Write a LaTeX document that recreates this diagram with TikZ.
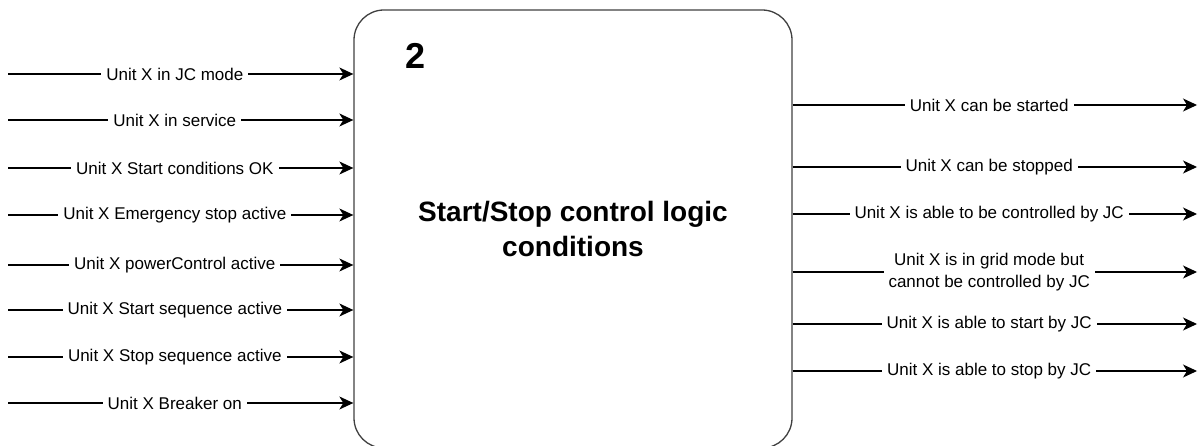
\documentclass[tikz,border=0pt]{standalone}
\usepackage{fontspec}
\setmainfont{Liberation Sans}
\usetikzlibrary{arrows.meta}
\begin{document}
\begin{tikzpicture}[x=1pt,y=-1pt,
  flow/.style={line width=1.2pt, -{Stealth[length=14pt,width=13pt,inset=4pt]}},
  sig/.style={fill=white, inner xsep=5pt, inner ysep=1pt, align=center,
    font=\fontsize{17}{22}\selectfont},
  logicbox/.style={draw=black!75, line width=1.3pt, rounded corners=30pt,
    minimum width=438pt, minimum height=438pt},
]
\useasboundingbox (0,0) rectangle (1201,446);
\clip (0,0) rectangle (1201,446);

% central logic block
\node[logicbox] (logic) at (573,229) {};
\node[font=\bfseries\fontsize{36}{40}\selectfont] (num) at (416,56) {2};
\node[font=\bfseries\fontsize{28}{35}\selectfont, align=center] (title) at (logic.center)
  {Start/Stop control logic\\conditions};

% input signals
\coordinate (in1) at (8,74);
\coordinate (in2) at (8,120);
\coordinate (in3) at (8,168);
\coordinate (in4) at (8,215);
\coordinate (in5) at (8,265);
\coordinate (in6) at (8,310);
\coordinate (in7) at (8,357);
\coordinate (in8) at (8,403);
\draw[flow] (in1) -- node[sig,pos=0.483] (l1) {Unit X in JC mode} (in1 -| logic.west);
\draw[flow] (in2) -- node[sig,pos=0.483] (l2) {Unit X in service} (in2 -| logic.west);
\draw[flow] (in3) -- node[sig,pos=0.483] (l3) {Unit X Start conditions OK} (in3 -| logic.west);
\draw[flow] (in4) -- node[sig,pos=0.483] (l4) {Unit X Emergency stop active} (in4 -| logic.west);
\draw[flow] (in5) -- node[sig,pos=0.483] (l5) {Unit X powerControl active} (in5 -| logic.west);
\draw[flow] (in6) -- node[sig,pos=0.483] (l6) {Unit X Start sequence active} (in6 -| logic.west);
\draw[flow] (in7) -- node[sig,pos=0.483] (l7) {Unit X Stop sequence active} (in7 -| logic.west);
\draw[flow] (in8) -- node[sig,pos=0.483] (l8) {Unit X Breaker on} (in8 -| logic.west);

% output signals
\coordinate (out1) at (1197,105);
\coordinate (out2) at (1197,167);
\coordinate (out3) at (1197,214);
\coordinate (out4) at (1197,272);
\coordinate (out5) at (1197,324);
\coordinate (out6) at (1197,371);
\draw[flow] (logic.east |- out1) -- node[sig,pos=0.486] (r1) {Unit X can be started} (out1);
\draw[flow] (logic.east |- out2) -- node[sig,pos=0.486] (r2) {Unit X can be stopped} (out2);
\draw[flow] (logic.east |- out3) -- node[sig,pos=0.486] (r3) {Unit X is able to be controlled by JC} (out3);
\draw[flow] (logic.east |- out4) -- node[sig,pos=0.486] (r4) {Unit X is in grid mode but\\cannot be controlled by JC} (out4);
\draw[flow] (logic.east |- out5) -- node[sig,pos=0.486] (r5) {Unit X is able to start by JC} (out5);
\draw[flow] (logic.east |- out6) -- node[sig,pos=0.486] (r6) {Unit X is able to stop by JC} (out6);
\end{tikzpicture}
\end{document}
